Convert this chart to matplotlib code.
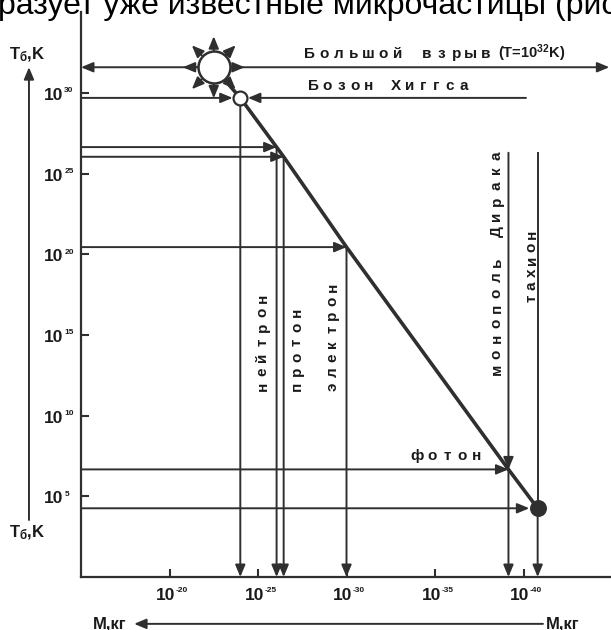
import matplotlib.pyplot as plt
import numpy as np

plt.rcParams['font.family'] = ['Liberation Sans', 'DejaVu Sans']
plt.rcParams['mathtext.default'] = 'regular'

INK = '#2f2f2f'
TXT = '#1a1a1a'

# points on the diagram: mass M = 10^-x kg, temperature T = 10^y K
points = ['Большой взрыв', 'Бозон Хиггса', 'нейтрон', 'протон', 'электрон', 'фотон', 'тахион']
mass_exp = [22.5, 24.0, 26.05, 26.45, 30.0, 39.15, 40.8]
temp_exp = [31.6, 29.7, 26.65, 26.05, 20.45, 6.67, 4.26]
top_exp = 26.3   # where the monopole / tachyon verticals begin

x_ticks = [20, 25, 30, 35, 40]
y_ticks = [5, 10, 15, 20, 25, 30]
x_exps = ['-20', '-25', '-30', '-35', '-40']
y_exps = ['5', '10', '15', '20', '25', '30']

fig = plt.figure(figsize=(6.11, 6.30), dpi=100)
ax = fig.add_axes([81 / 611, 1 - 577 / 630, 531 / 611, 564.6 / 630])
ax.set_xlim(15, 45)
ax.set_ylim(0, 35)
for s in ['top', 'right']:
    ax.spines[s].set_visible(False)
for s in ['left', 'bottom']:
    ax.spines[s].set_linewidth(1.6)
    ax.spines[s].set_color(INK)

ax.set_xticks(x_ticks)
ax.set_yticks(y_ticks)
ax.tick_params(axis='both', direction='in', length=6, width=1.5, color=INK,
               labelbottom=False, labelleft=False)

# tick labels: "10" with a small exponent
for v, e in zip(x_ticks, x_exps):
    ax.annotate('10', (v, 0), xytext=(-2.5, -13), textcoords='offset points',
                ha='center', va='center', fontsize=12.5, fontweight='bold', color=TXT,
                annotation_clip=False)
    ax.annotate(e, (v, 0), xytext=(4.5, -9.5), textcoords='offset points',
                ha='left', va='center', fontsize=6, fontweight='bold', color=TXT,
                annotation_clip=False)
for v, e in zip(y_ticks, y_exps):
    ax.annotate('10', (15, v), xytext=(-19.5, -1.8), textcoords='offset points',
                ha='center', va='center', fontsize=12.5, fontweight='bold', color=TXT,
                annotation_clip=False)
    ax.annotate(e, (15, v), xytext=(-12, 1.6), textcoords='offset points',
                ha='left', va='center', fontsize=6, fontweight='bold', color=TXT,
                annotation_clip=False)


def arrow(x0, y0, x1, y1, sa=0, sb=0, lw=1.4, ms=12, coords='data'):
    ax.annotate('', xy=(x1, y1), xytext=(x0, y0), xycoords=coords, textcoords=coords,
                arrowprops=dict(arrowstyle='-|>,head_length=0.6,head_width=0.25',
                                mutation_scale=ms, lw=lw, color=INK,
                                shrinkA=sa, shrinkB=sb),
                annotation_clip=False)


def spaced(x, y, s, pitch, rot=0, size=11):
    # letter-spaced label, one glyph at a time
    for i, ch in enumerate(s):
        off = (i * pitch, 0) if rot == 0 else (0, i * pitch)
        ax.annotate(ch, (x, y), xytext=off, textcoords='offset points',
                    rotation=rot, rotation_mode='anchor', ha='center', va='baseline',
                    fontsize=size, fontweight='bold', color=TXT,
                    annotation_clip=False)


u, t = mass_exp, temp_exp

# main line
ax.plot(u, t, color=INK, lw=2.6, zorder=3)

# big bang: horizontal line both ways
arrow(u[0], t[0], 15, t[0], sa=11.5)
arrow(u[0], t[0], 44.85, t[0], sa=11.5)

# higgs: arrows from both sides
arrow(15, t[1], u[1], t[1], sb=5.5)
arrow(40.14, t[1], u[1], t[1], sb=5.5)

# horizontal arrows from T axis to the particles
for i in [2, 3, 4, 5]:
    arrow(15, t[i], u[i], t[i])
arrow(15, t[6], u[6], t[6], sb=6)

# vertical arrows down to the M axis
arrow(u[1], t[1], u[1], 0, sa=5)
for i in [2, 3, 4, 5]:
    arrow(u[i], t[i], u[i], 0)
arrow(u[6], t[6], u[6], 0, sa=5)

# monopole line ends with an arrow at the photon point, tachyon line runs into the dot
arrow(u[5], top_exp, u[5], t[5])
ax.plot([u[6], u[6]], [top_exp, t[6]], color=INK, lw=1.4, zorder=2)

# markers
ax.scatter(u[0], t[0], s=530, facecolor='white', edgecolor=INK, lw=1.8, zorder=5)
ax.scatter(u[1], t[1], s=100, facecolor='white', edgecolor=INK, lw=1.6, zorder=5)
ax.scatter(u[6], t[6], s=125, color=INK, zorder=5)

# rays around the big bang
cx, cy = ax.transData.transform((u[0], t[0]))
for ang in np.radians(np.arange(0, 360, 45)):
    c, s = np.cos(ang), np.sin(ang)
    arrow(cx + 17 * c, cy + 17 * s, cx + 31 * c, cy + 31 * s, lw=1.4, ms=12,
          coords='figure pixels')

# labels
spaced(27.88, 32.17, 'Большой взрыв', 10.6)
ax.text(38.55, 32.17, '(T=10$^{32}$K)', fontsize=10.5, fontweight='bold', color=TXT,
        va='baseline', ha='left')
spaced(28.16, 30.19, 'Бозон Хиггса', 9.8)
spaced(33.98, 7.23, 'фотон', 10.8)
spaced(25.48, 11.82, 'нейтрон', 10.6, rot=90)
spaced(27.43, 11.82, 'протон', 10.6, rot=90)
spaced(29.43, 11.82, 'электрон', 10.2, rot=90)
spaced(38.7, 12.88, 'монополь Дирака', 11.0, rot=90)
spaced(40.68, 17.28, 'тахион', 9.2, rot=90)

# axis captions with arrows outside the axes
tr = ax.transAxes
ax.text(-0.102, 0.925, 'T$_б$,K', transform=tr, fontsize=12, fontweight='bold',
        ha='center', va='center', color=TXT)
ax.text(-0.102, 0.078, 'T$_б$,K', transform=tr, fontsize=12, fontweight='bold',
        ha='center', va='center', color=TXT)
arrow(-0.098, 0.101, -0.098, 0.903, coords='axes fraction')
ax.text(0.054, -0.083, 'M,кг', transform=tr, fontsize=12, fontweight='bold',
        ha='center', va='center', color=TXT)
ax.text(0.908, -0.083, 'M,кг', transform=tr, fontsize=12, fontweight='bold',
        ha='center', va='center', color=TXT)
arrow(0.870, -0.083, 0.100, -0.083, coords='axes fraction')

# cropped line of body text at the top of the page
fig.text(-0.004, 1 - 14 / 630, 'разует уже известные микрочастицы (рис', fontsize=23,
         ha='left', va='baseline', color='black')

fig.savefig('out.png', dpi=100)
